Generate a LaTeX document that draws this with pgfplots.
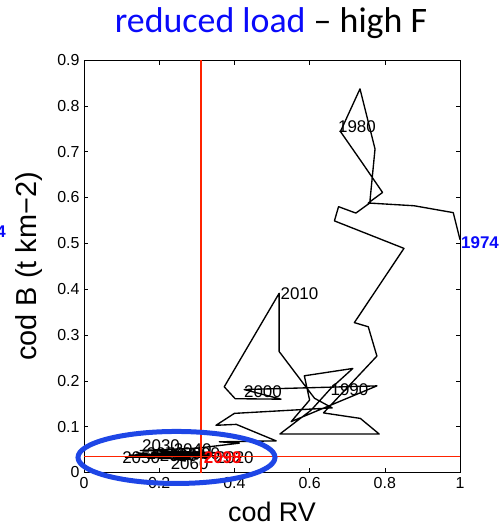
\documentclass[border=0pt]{standalone}
\usepackage{pgfplots}
\pgfplotsset{compat=1.18}
\usepackage{fontspec}
\setmainfont{Liberation Sans}
\newfontfamily\titlefont{Carlito}
\definecolor{mred}{RGB}{255,35,0}
\definecolor{eblue}{RGB}{30,70,230}
\definecolor{tblue}{RGB}{10,10,250}
\begin{document}
\begin{tikzpicture}
\path[use as bounding box] (-84bp,-59.5bp) rectangle (420bp,472.5bp);
\begin{axis}[
  at={(0,0)}, anchor=south west,
  scale only axis, width=376bp, height=412.5bp,
  xmin=0, xmax=1, ymin=0, ymax=0.9,
  xtick={0,0.2,0.4,0.6,0.8,1},
  xticklabels={0,0.2,0.4,0.6,0.8,1},
  ytick={0,0.1,0.2,0.3,0.4,0.5,0.6,0.7,0.8,0.9},
  yticklabels={0,0.1,0.2,0.3,0.4,0.5,0.6,0.7,0.8,0.9},
  tick align=inside,
  major tick length=4.5bp,
  tick style={black, line width=0.6bp},
  axis line style={line width=0.9bp},
  ticklabel style={font=\fontsize{16}{18}\selectfont},
  xticklabel style={yshift=-1.5bp},
  yticklabel style={xshift=-1bp},
  clip=false,
  xlabel={cod RV},
  ylabel={cod B (t km−2)},
  xlabel style={at={(axis description cs:0.5,-0.1193)}, anchor=base, font=\fontsize{27}{30}\selectfont},
  ylabel style={at={(axis description cs:-0.125,0.5)}, anchor=base, font=\fontsize{29}{32}\selectfont},
]
\addplot[black, line width=1.35bp, line join=round] coordinates {
(1.000,0.508) (0.982,0.567) (0.878,0.582) (0.756,0.588) (0.794,0.611)
(0.738,0.678) (0.682,0.744) (0.734,0.837) (0.774,0.706) (0.760,0.588)
(0.723,0.566) (0.677,0.580) (0.666,0.549) (0.851,0.489) (0.719,0.327)
(0.756,0.318) (0.779,0.254) (0.637,0.130) (0.735,0.118) (0.785,0.084)
(0.521,0.084) (0.604,0.136) (0.657,0.184) (0.715,0.227) (0.586,0.211)
(0.600,0.158) (0.551,0.111) (0.779,0.189) (0.426,0.181) (0.524,0.160)
(0.402,0.161) (0.373,0.187) (0.519,0.391) (0.519,0.264) (0.613,0.162)
(0.660,0.141) (0.400,0.129) (0.351,0.103) (0.405,0.105) (0.511,0.069)
(0.360,0.067) (0.413,0.064) (0.300,0.053) (0.150,0.048) (0.360,0.043)
(0.120,0.038) (0.330,0.033) (0.180,0.043) (0.300,0.040) (0.110,0.033)
(0.350,0.036) (0.200,0.047) (0.290,0.028) (0.130,0.035) (0.320,0.037)
(0.170,0.039) (0.280,0.031) (0.140,0.043) (0.270,0.025) (0.230,0.038)
(0.313,0.035)
};
\begin{scope}[every node/.style={anchor=west, inner sep=0.5bp, font=\fontsize{17}{19}\selectfont}]
\node at (axis cs:0.674,0.754) {1980};
\node at (axis cs:0.654,0.180) {1990};
\node at (axis cs:0.424,0.176) {2000};
\node at (axis cs:0.521,0.390) {2010};
\node at (axis cs:0.349,0.033) {2020};
\node at (axis cs:0.153,0.058) {2030};
\node at (axis cs:0.237,0.050) {2040};
\node at (axis cs:0.100,0.032) {2050};
\node at (axis cs:0.229,0.019) {2060};
\node at (axis cs:0.165,0.042) {2070};
\node at (axis cs:0.200,0.036) {2080};
\node at (axis cs:0.260,0.040) {2090};
\end{scope}
\addplot[mred, line width=1.4bp] coordinates {(0,0.0345) (1,0.0345)};
\addplot[mred, line width=1.4bp] coordinates {(0.311,-0.002) (0.311,0.9)};
\node[anchor=west, inner sep=0.5bp, text=red, font=\bfseries\fontsize{17}{19}\selectfont] at (axis cs:0.317,0.033) {2098};
\node[anchor=west, inner sep=1bp, text=tblue, font=\bfseries\fontsize{17}{19}\selectfont] at (axis cs:1.0,0.501) {1974};
\draw[eblue, line width=5bp] (axis cs:0.246,0.0328) ellipse [x radius=98.5bp, y radius=26bp];
\end{axis}
\node[anchor=base east, inner sep=0, text=tblue, font=\bfseries\fontsize{17}{19}\selectfont] at (-78bp,235.2bp) {1974};
\node[anchor=base, inner sep=0, font=\titlefont\fontsize{36}{40}\selectfont] at (187bp,439.8bp) {\textcolor{tblue}{reduced load} – high F};
\end{tikzpicture}
\end{document}
